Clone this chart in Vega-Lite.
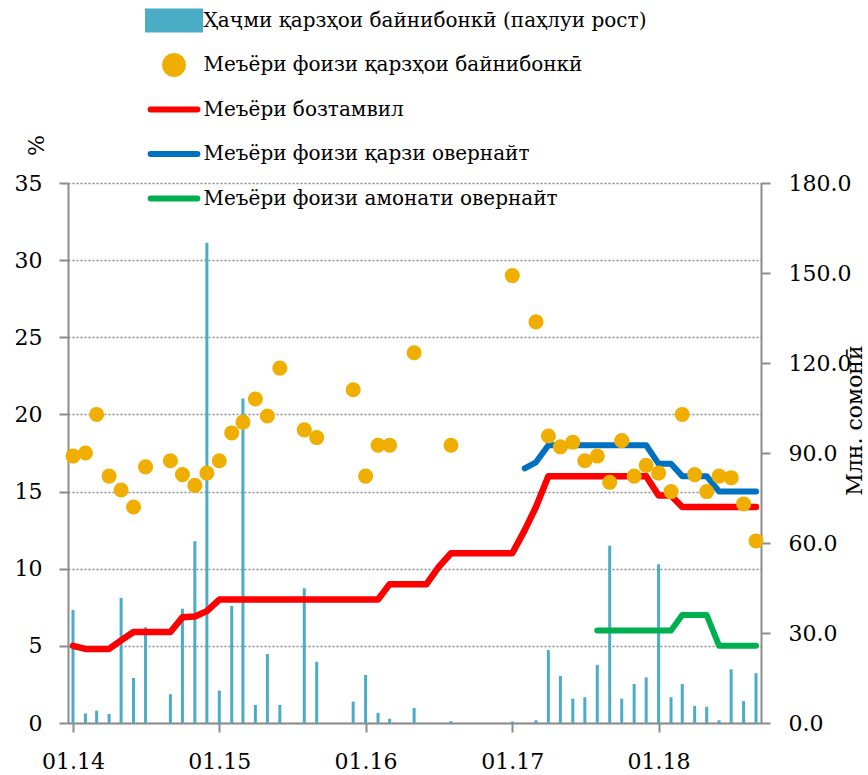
{
  "$schema": "https://vega.github.io/schema/vega-lite/v6.json",
  "width": 693,
  "height": 540,
  "autosize": {"type": "none"},
  "padding": {"left": 68, "top": 183, "right": 107, "bottom": 52},
  "background": "white",
  "config": {
    "view": {"stroke": null},
    "font": "DejaVu Serif",
    "axis": {
      "labelFont": "DejaVu Serif",
      "labelFontSize": 22,
      "labelColor": "#000000",
      "titleFont": "DejaVu Serif",
      "titleFontWeight": "normal",
      "titleColor": "#000000",
      "domainColor": "#8c8c8c",
      "domainWidth": 2,
      "tickColor": "#8c8c8c",
      "tickWidth": 2,
      "tickSize": 9
    },
    "legend": {
      "title": null,
      "orient": "none",
      "legendX": 89,
      "legendY": -179.5,
      "direction": "vertical",
      "symbolSize": 784,
      "labelFont": "DejaVu Serif",
      "labelFontSize": 20,
      "labelColor": "#000000",
      "labelLimit": 700,
      "labelOffset": 12.5,
      "rowPadding": 0.5,
      "gridAlign": "all"
    }
  },
  "datasets": {
    "loans": [
      {"date": "2014-01-01", "value": 37.7}, {"date": "2014-02-01", "value": 3.2}, {"date": "2014-03-01", "value": 4.1},
      {"date": "2014-04-01", "value": 3.0}, {"date": "2014-05-01", "value": 41.7}, {"date": "2014-06-01", "value": 15.0},
      {"date": "2014-07-01", "value": 31.9}, {"date": "2014-09-01", "value": 9.6}, {"date": "2014-10-01", "value": 38.1},
      {"date": "2014-11-01", "value": 60.6}, {"date": "2014-12-01", "value": 160.1}, {"date": "2015-01-01", "value": 10.8},
      {"date": "2015-02-01", "value": 39.0}, {"date": "2015-03-01", "value": 108.2}, {"date": "2015-04-01", "value": 6.0},
      {"date": "2015-05-01", "value": 23.0}, {"date": "2015-06-01", "value": 6.0}, {"date": "2015-08-01", "value": 44.9},
      {"date": "2015-09-01", "value": 20.4}, {"date": "2015-12-01", "value": 7.1}, {"date": "2016-01-01", "value": 16.0},
      {"date": "2016-02-01", "value": 3.4}, {"date": "2016-03-01", "value": 1.4}, {"date": "2016-05-01", "value": 5.0},
      {"date": "2016-08-01", "value": 0.6}, {"date": "2017-01-01", "value": 0.5}, {"date": "2017-03-01", "value": 0.9},
      {"date": "2017-04-01", "value": 24.3}, {"date": "2017-05-01", "value": 15.7}, {"date": "2017-06-01", "value": 8.1},
      {"date": "2017-07-01", "value": 8.6}, {"date": "2017-08-01", "value": 19.4}, {"date": "2017-09-01", "value": 59.1},
      {"date": "2017-10-01", "value": 8.1}, {"date": "2017-11-01", "value": 13.0}, {"date": "2017-12-01", "value": 15.2},
      {"date": "2018-01-01", "value": 52.9}, {"date": "2018-02-01", "value": 8.6}, {"date": "2018-03-01", "value": 13.0},
      {"date": "2018-04-01", "value": 5.7}, {"date": "2018-05-01", "value": 5.4}, {"date": "2018-06-01", "value": 0.9},
      {"date": "2018-07-01", "value": 17.9}, {"date": "2018-08-01", "value": 7.3}, {"date": "2018-09-01", "value": 16.6}
    ],
    "interbank": [
      {"date": "2014-01-01", "value": 17.3}, {"date": "2014-02-01", "value": 17.5}, {"date": "2014-03-01", "value": 20.0},
      {"date": "2014-04-01", "value": 16.0}, {"date": "2014-05-01", "value": 15.1}, {"date": "2014-06-01", "value": 14.0},
      {"date": "2014-07-01", "value": 16.6}, {"date": "2014-09-01", "value": 17.0}, {"date": "2014-10-01", "value": 16.1},
      {"date": "2014-11-01", "value": 15.4}, {"date": "2014-12-01", "value": 16.2}, {"date": "2015-01-01", "value": 17.0},
      {"date": "2015-02-01", "value": 18.8}, {"date": "2015-03-01", "value": 19.5}, {"date": "2015-04-01", "value": 21.0},
      {"date": "2015-05-01", "value": 19.9}, {"date": "2015-06-01", "value": 23.0}, {"date": "2015-08-01", "value": 19.0},
      {"date": "2015-09-01", "value": 18.5}, {"date": "2015-12-01", "value": 21.6}, {"date": "2016-01-01", "value": 16.0},
      {"date": "2016-02-01", "value": 18.0}, {"date": "2016-03-01", "value": 18.0}, {"date": "2016-05-01", "value": 24.0},
      {"date": "2016-08-01", "value": 18.0}, {"date": "2017-01-01", "value": 29.0}, {"date": "2017-03-01", "value": 26.0},
      {"date": "2017-04-01", "value": 18.6}, {"date": "2017-05-01", "value": 17.9}, {"date": "2017-06-01", "value": 18.2},
      {"date": "2017-07-01", "value": 17.0}, {"date": "2017-08-01", "value": 17.3}, {"date": "2017-09-01", "value": 15.6},
      {"date": "2017-10-01", "value": 18.3}, {"date": "2017-11-01", "value": 16.0}, {"date": "2017-12-01", "value": 16.7},
      {"date": "2018-01-01", "value": 16.2}, {"date": "2018-02-01", "value": 15.0}, {"date": "2018-03-01", "value": 20.0},
      {"date": "2018-04-01", "value": 16.1}, {"date": "2018-05-01", "value": 15.0}, {"date": "2018-06-01", "value": 16.0},
      {"date": "2018-07-01", "value": 15.9}, {"date": "2018-08-01", "value": 14.2}, {"date": "2018-09-01", "value": 11.8}
    ],
    "refi": [
      {"date": "2014-01-01", "value": 5.0}, {"date": "2014-02-01", "value": 4.8}, {"date": "2014-03-01", "value": 4.8},
      {"date": "2014-04-01", "value": 4.8}, {"date": "2014-05-01", "value": 5.35}, {"date": "2014-06-01", "value": 5.9},
      {"date": "2014-07-01", "value": 5.9}, {"date": "2014-08-01", "value": 5.9}, {"date": "2014-09-01", "value": 5.9},
      {"date": "2014-10-01", "value": 6.85}, {"date": "2014-11-01", "value": 6.9}, {"date": "2014-12-01", "value": 7.25},
      {"date": "2015-01-01", "value": 8.0}, {"date": "2015-02-01", "value": 8.0}, {"date": "2015-03-01", "value": 8.0},
      {"date": "2015-04-01", "value": 8.0}, {"date": "2015-05-01", "value": 8.0}, {"date": "2015-06-01", "value": 8.0},
      {"date": "2015-07-01", "value": 8.0}, {"date": "2015-08-01", "value": 8.0}, {"date": "2015-09-01", "value": 8.0},
      {"date": "2015-10-01", "value": 8.0}, {"date": "2015-11-01", "value": 8.0}, {"date": "2015-12-01", "value": 8.0},
      {"date": "2016-01-01", "value": 8.0}, {"date": "2016-02-01", "value": 8.0}, {"date": "2016-03-01", "value": 9.0},
      {"date": "2016-04-01", "value": 9.0}, {"date": "2016-05-01", "value": 9.0}, {"date": "2016-06-01", "value": 9.0},
      {"date": "2016-07-01", "value": 10.1}, {"date": "2016-08-01", "value": 11.0}, {"date": "2016-09-01", "value": 11.0},
      {"date": "2016-10-01", "value": 11.0}, {"date": "2016-11-01", "value": 11.0}, {"date": "2016-12-01", "value": 11.0},
      {"date": "2017-01-01", "value": 11.0}, {"date": "2017-02-01", "value": 12.5}, {"date": "2017-03-01", "value": 14.0},
      {"date": "2017-04-01", "value": 16.0}, {"date": "2017-05-01", "value": 16.0}, {"date": "2017-06-01", "value": 16.0},
      {"date": "2017-07-01", "value": 16.0}, {"date": "2017-08-01", "value": 16.0}, {"date": "2017-09-01", "value": 16.0},
      {"date": "2017-10-01", "value": 16.0}, {"date": "2017-11-01", "value": 16.0}, {"date": "2017-12-01", "value": 16.0},
      {"date": "2018-01-01", "value": 14.75}, {"date": "2018-02-01", "value": 14.75}, {"date": "2018-03-01", "value": 14.0},
      {"date": "2018-04-01", "value": 14.0}, {"date": "2018-05-01", "value": 14.0}, {"date": "2018-06-01", "value": 14.0},
      {"date": "2018-07-01", "value": 14.0}, {"date": "2018-08-01", "value": 14.0}, {"date": "2018-09-01", "value": 14.0}
    ],
    "onloan": [
      {"date": "2017-02-01", "value": 16.5}, {"date": "2017-03-01", "value": 16.9}, {"date": "2017-04-01", "value": 18.0},
      {"date": "2017-05-01", "value": 18.0}, {"date": "2017-06-01", "value": 18.0}, {"date": "2017-07-01", "value": 18.0},
      {"date": "2017-08-01", "value": 18.0}, {"date": "2017-09-01", "value": 18.0}, {"date": "2017-10-01", "value": 18.0},
      {"date": "2017-11-01", "value": 18.0}, {"date": "2017-12-01", "value": 18.0}, {"date": "2018-01-01", "value": 16.8},
      {"date": "2018-02-01", "value": 16.8}, {"date": "2018-03-01", "value": 16.0}, {"date": "2018-04-01", "value": 16.0},
      {"date": "2018-05-01", "value": 16.0}, {"date": "2018-06-01", "value": 15.0}, {"date": "2018-07-01", "value": 15.0},
      {"date": "2018-08-01", "value": 15.0}, {"date": "2018-09-01", "value": 15.0}
    ],
    "ondep": [
      {"date": "2017-08-01", "value": 6.0}, {"date": "2017-09-01", "value": 6.0}, {"date": "2017-10-01", "value": 6.0},
      {"date": "2017-11-01", "value": 6.0}, {"date": "2017-12-01", "value": 6.0}, {"date": "2018-01-01", "value": 6.0},
      {"date": "2018-02-01", "value": 6.0}, {"date": "2018-03-01", "value": 7.0}, {"date": "2018-04-01", "value": 7.0},
      {"date": "2018-05-01", "value": 7.0}, {"date": "2018-06-01", "value": 5.0}, {"date": "2018-07-01", "value": 5.0},
      {"date": "2018-08-01", "value": 5.0}, {"date": "2018-09-01", "value": 5.0}
    ]
  },
  "encoding": {
    "x": {
      "field": "date",
      "type": "temporal",
      "scale": {
        "type": "utc",
        "domain": [
          {"year": 2014, "month": 1, "date": 1, "utc": true},
          {"year": 2018, "month": 9, "date": 1, "utc": true}
        ]
      },
      "axis": {
        "title": null,
        "format": "%m.%y",
        "tickCount": {"interval": "year", "step": 1},
        "grid": false,
        "labelPadding": 19,
        "labelFlush": false,
        "labelOverlap": false
      }
    }
  },
  "layer": [
    {
      "data": {"name": "loans"},
      "mark": {"type": "bar", "size": 3, "opacity": 1},
      "encoding": {
        "y": {
          "field": "value",
          "type": "quantitative",
          "scale": {"domain": [0, 180], "nice": false, "zero": true},
          "axis": {
            "orient": "right",
            "values": [0, 30, 60, 90, 120, 150, 180],
            "format": ".1f",
            "grid": false,
            "labelPadding": 18,
            "title": "Млн. сомонӣ",
            "titleFontSize": 22,
            "titleAngle": 270,
            "titleX": 100,
            "titleY": 237,
            "titleAlign": "center",
            "titleBaseline": "alphabetic"
          }
        },
        "color": {
          "datum": "Ҳаҷми қарзҳои байнибонкӣ (паҳлуи рост)",
          "scale": {
            "domain": [
              "Ҳаҷми қарзҳои байнибонкӣ (паҳлуи рост)",
              "Меъёри фоизи  қарзҳои байнибонкӣ",
              "Меъёри бозтамвил",
              "Меъёри фоизи қарзи овернайт",
              "Меъёри фоизи амонати овернайт"
            ],
            "range": ["#4BACC6", "#F0AE00", "#FF0000", "#0070C0", "#00B050"]
          },
          "legend": {"encode": {"symbols": {"update": {
            "shape": {"signal": "indexof(domain('color'), datum.value) == 0 ? 'M-1.857,-0.65H1.857V0.65H-1.857Z' : (indexof(domain('color'), datum.value) == 1 ? 'M0.643,0L0.594,0.246L0.455,0.455L0.246,0.594L0,0.643L-0.246,0.594L-0.455,0.455L-0.594,0.246L-0.643,0L-0.594,-0.246L-0.455,-0.455L-0.246,-0.594L0,-0.643L0.246,-0.594L0.455,-0.455L0.594,-0.246Z' : 'M-1.671,0H1.671')"},
            "size": {"value": 784},
            "fill": {"signal": "indexof(domain('color'), datum.value) <= 1 ? scale('color', datum.value) : 'transparent'"},
            "stroke": {"signal": "indexof(domain('color'), datum.value) <= 1 ? 'transparent' : scale('color', datum.value)"},
            "strokeWidth": {"value": 6},
            "strokeCap": {"value": "round"}, "opacity": {"value": 1}}}}}
        }
      }
    },
    {
      "encoding": {
        "y": {
          "field": "value",
          "type": "quantitative",
          "scale": {"domain": [0, 35], "nice": false, "zero": true},
          "axis": {
            "orient": "left",
            "values": [0, 5, 10, 15, 20, 25, 30, 35],
            "grid": true,
            "gridColor": "#8c8c8c",
            "gridDash": [2, 2],
            "gridWidth": 1.5,
            "labelPadding": 17,
            "title": "%",
            "titleFontSize": 22,
            "titleAngle": 270,
            "titleX": -32,
            "titleY": -38,
            "titleAlign": "center",
            "titleBaseline": "middle"
          }
        }
      },
      "layer": [
        {
          "data": {"name": "refi"},
          "mark": {"type": "line", "strokeWidth": 6.5, "strokeCap": "round", "strokeJoin": "round"},
          "encoding": {"color": {"datum": "Меъёри бозтамвил", "legend": {"encode": {"symbols": {"update": {
            "shape": {"signal": "indexof(domain('color'), datum.value) == 0 ? 'M-1.857,-0.65H1.857V0.65H-1.857Z' : (indexof(domain('color'), datum.value) == 1 ? 'M0.643,0L0.594,0.246L0.455,0.455L0.246,0.594L0,0.643L-0.246,0.594L-0.455,0.455L-0.594,0.246L-0.643,0L-0.594,-0.246L-0.455,-0.455L-0.246,-0.594L0,-0.643L0.246,-0.594L0.455,-0.455L0.594,-0.246Z' : 'M-1.671,0H1.671')"},
            "size": {"value": 784},
            "fill": {"signal": "indexof(domain('color'), datum.value) <= 1 ? scale('color', datum.value) : 'transparent'"},
            "stroke": {"signal": "indexof(domain('color'), datum.value) <= 1 ? 'transparent' : scale('color', datum.value)"},
            "strokeWidth": {"value": 6},
            "strokeCap": {"value": "round"}, "opacity": {"value": 1}}}}}}}
        },
        {
          "data": {"name": "onloan"},
          "mark": {"type": "line", "strokeWidth": 6, "strokeCap": "round", "strokeJoin": "round"},
          "encoding": {"color": {"datum": "Меъёри фоизи қарзи овернайт", "legend": {"encode": {"symbols": {"update": {
            "shape": {"signal": "indexof(domain('color'), datum.value) == 0 ? 'M-1.857,-0.65H1.857V0.65H-1.857Z' : (indexof(domain('color'), datum.value) == 1 ? 'M0.643,0L0.594,0.246L0.455,0.455L0.246,0.594L0,0.643L-0.246,0.594L-0.455,0.455L-0.594,0.246L-0.643,0L-0.594,-0.246L-0.455,-0.455L-0.246,-0.594L0,-0.643L0.246,-0.594L0.455,-0.455L0.594,-0.246Z' : 'M-1.671,0H1.671')"},
            "size": {"value": 784},
            "fill": {"signal": "indexof(domain('color'), datum.value) <= 1 ? scale('color', datum.value) : 'transparent'"},
            "stroke": {"signal": "indexof(domain('color'), datum.value) <= 1 ? 'transparent' : scale('color', datum.value)"},
            "strokeWidth": {"value": 6},
            "strokeCap": {"value": "round"}, "opacity": {"value": 1}}}}}}}
        },
        {
          "data": {"name": "ondep"},
          "mark": {"type": "line", "strokeWidth": 6, "strokeCap": "round", "strokeJoin": "round"},
          "encoding": {"color": {"datum": "Меъёри фоизи амонати овернайт", "legend": {"encode": {"symbols": {"update": {
            "shape": {"signal": "indexof(domain('color'), datum.value) == 0 ? 'M-1.857,-0.65H1.857V0.65H-1.857Z' : (indexof(domain('color'), datum.value) == 1 ? 'M0.643,0L0.594,0.246L0.455,0.455L0.246,0.594L0,0.643L-0.246,0.594L-0.455,0.455L-0.594,0.246L-0.643,0L-0.594,-0.246L-0.455,-0.455L-0.246,-0.594L0,-0.643L0.246,-0.594L0.455,-0.455L0.594,-0.246Z' : 'M-1.671,0H1.671')"},
            "size": {"value": 784},
            "fill": {"signal": "indexof(domain('color'), datum.value) <= 1 ? scale('color', datum.value) : 'transparent'"},
            "stroke": {"signal": "indexof(domain('color'), datum.value) <= 1 ? 'transparent' : scale('color', datum.value)"},
            "strokeWidth": {"value": 6},
            "strokeCap": {"value": "round"}, "opacity": {"value": 1}}}}}}}
        },
        {
          "data": {"name": "interbank"},
          "mark": {"type": "point", "filled": true, "size": 227, "opacity": 1},
          "encoding": {"color": {"datum": "Меъёри фоизи  қарзҳои байнибонкӣ", "legend": {"encode": {"symbols": {"update": {
            "shape": {"signal": "indexof(domain('color'), datum.value) == 0 ? 'M-1.857,-0.65H1.857V0.65H-1.857Z' : (indexof(domain('color'), datum.value) == 1 ? 'M0.643,0L0.594,0.246L0.455,0.455L0.246,0.594L0,0.643L-0.246,0.594L-0.455,0.455L-0.594,0.246L-0.643,0L-0.594,-0.246L-0.455,-0.455L-0.246,-0.594L0,-0.643L0.246,-0.594L0.455,-0.455L0.594,-0.246Z' : 'M-1.671,0H1.671')"},
            "size": {"value": 784},
            "fill": {"signal": "indexof(domain('color'), datum.value) <= 1 ? scale('color', datum.value) : 'transparent'"},
            "stroke": {"signal": "indexof(domain('color'), datum.value) <= 1 ? 'transparent' : scale('color', datum.value)"},
            "strokeWidth": {"value": 6},
            "strokeCap": {"value": "round"}, "opacity": {"value": 1}}}}}}}
        }
      ]
    }
  ],
  "resolve": {"scale": {"y": "independent"}}
}
